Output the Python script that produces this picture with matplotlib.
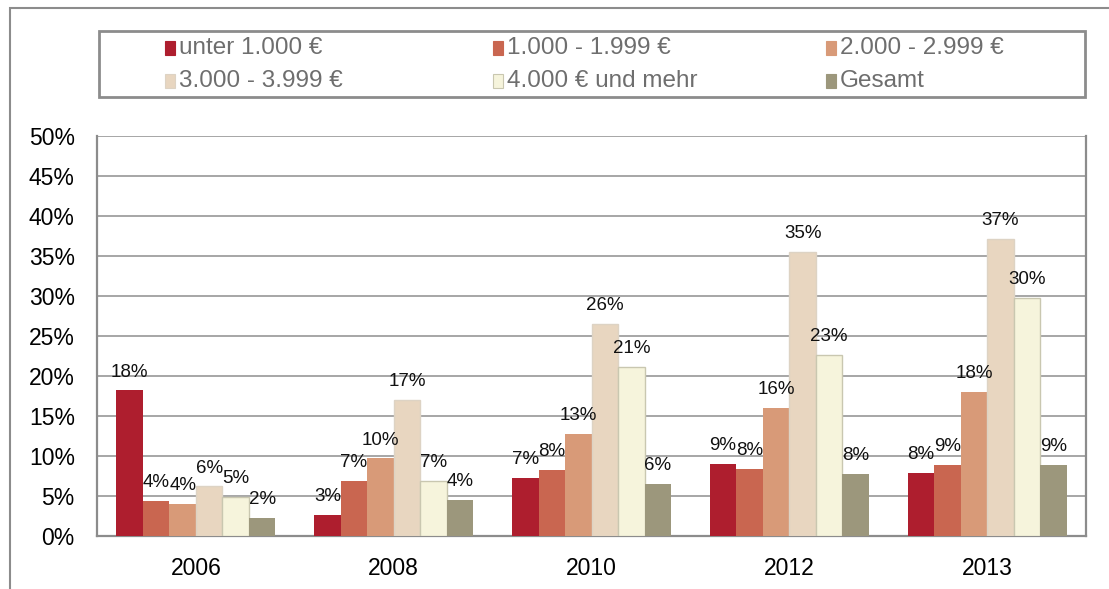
import numpy as np
import matplotlib
matplotlib.use("Agg")
import matplotlib.pyplot as plt
from matplotlib.patches import Rectangle

plt.rcParams['font.family'] = ['Liberation Sans', 'DejaVu Sans']

years = ['2006', '2008', '2010', '2012', '2013']
series = ['unter 1.000 €', '1.000 - 1.999 €', '2.000 - 2.999 €',
          '3.000 - 3.999 €', '4.000 € und mehr', 'Gesamt']
values = [
    [18.2, 2.6, 7.3, 9.0, 7.9],     # unter 1.000
    [4.4, 6.9, 8.3, 8.4, 8.9],      # 1.000 - 1.999
    [4.0, 9.7, 12.8, 16.0, 18.0],   # 2.000 - 2.999
    [6.2, 17.0, 26.5, 35.5, 37.1],  # 3.000 - 3.999
    [4.9, 6.9, 21.1, 22.6, 29.8],   # 4.000 und mehr
    [2.3, 4.5, 6.5, 7.8, 8.9],      # Gesamt
]
labels = [
    ['18%', '3%', '7%', '9%', '8%'],
    ['4%', '7%', '8%', '8%', '9%'],
    ['4%', '10%', '13%', '16%', '18%'],
    ['6%', '17%', '26%', '35%', '37%'],
    ['5%', '7%', '21%', '23%', '30%'],
    ['2%', '4%', '6%', '8%', '9%'],
]
colors = ['#AE1E2E', '#C96650', '#D89A78', '#E8D6C0', '#F6F4DC', '#9C977C']
edges = ['none', 'none', 'none', '#DDD3C4', '#C9C7B0', 'none']

fig = plt.figure(figsize=(11.09, 5.89), dpi=100)
ax = fig.add_axes([0.0875, 0.09, 0.8918, 0.679])

# outer frame (only left and top edges visible in the crop)
fig.patches.append(Rectangle((0.009, -0.05), 1.05, 1.036, transform=fig.transFigure,
                             fill=False, edgecolor='#8c8c8c', linewidth=1.5))

x = np.arange(len(years))
w = 0.134
for i, (name, vals) in enumerate(zip(series, values)):
    pos = x + (i - 2.5) * w
    ax.bar(pos, vals, width=w, color=colors[i], edgecolor=edges[i],
           linewidth=1.0 if edges[i] != 'none' else 0, zorder=3)
    for px, v, lab in zip(pos, vals, labels[i]):
        ax.annotate(lab, (px, v), xytext=(0, 10), textcoords='offset points',
                    ha='center', va='baseline', fontsize=13.5, color='#111111', zorder=4)

ax.set_xlim(-0.5, len(years) - 0.5)
ax.set_ylim(0, 50)
ax.set_yticks(np.arange(0, 51, 5))
ax.set_yticklabels([f'{t}%' for t in range(0, 51, 5)])
ax.set_xticks(x)
ax.set_xticklabels(years)
ax.tick_params(axis='both', length=0, labelsize=16.5, colors='black')
ax.tick_params(axis='y', pad=16)
ax.tick_params(axis='x', pad=15)
ax.grid(axis='y', color='#a6a6a6', linewidth=1.4, zorder=0)
for s in ax.spines.values():
    s.set_color('#8c8c8c')
    s.set_linewidth(1.6)
ax.spines['top'].set_visible(False)

# legend box
lx0, lx1, ly0, ly1 = 0.0893, 0.9784, 0.836, 0.947
fig.patches.append(Rectangle((lx0, ly0), lx1 - lx0, ly1 - ly0, transform=fig.transFigure,
                             fill=False, edgecolor='#8c8c8c', linewidth=2))
col_x = [0.1485, 0.4445, 0.7445]
row_y = [0.919, 0.863]
for i, name in enumerate(series):
    cx = col_x[i % 3]
    cy = row_y[i // 3]
    fig.patches.append(Rectangle((cx, cy - 0.012), 0.0092, 0.024, transform=fig.transFigure,
                                 facecolor=colors[i],
                                 edgecolor=edges[i] if edges[i] != 'none' else colors[i],
                                 linewidth=0.8))
    fig.text(cx + 0.0125, cy, name, ha='left', va='center', fontsize=17.5, color='#6e6e6e')

fig.savefig('out.png', dpi=100)
